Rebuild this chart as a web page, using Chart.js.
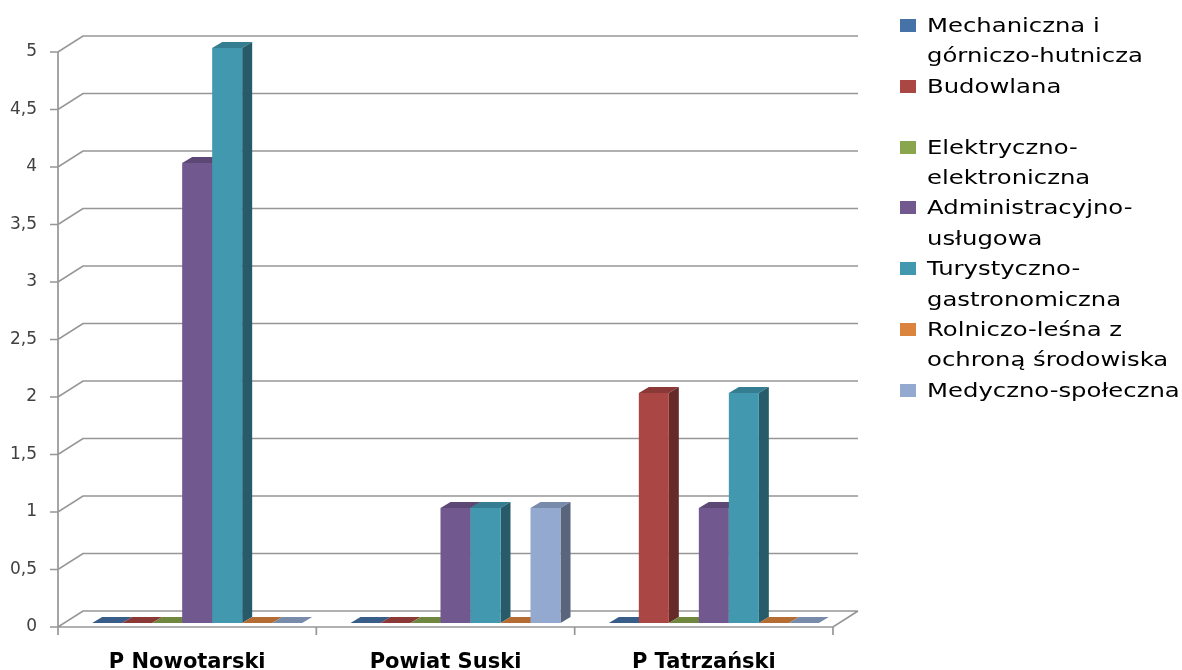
<!DOCTYPE html>
<html>
<head>
<meta charset="utf-8">
<script src="https://cdn.jsdelivr.net/npm/chart.js@4.4.1/dist/chart.umd.min.js"></script>
<style>
body { margin: 0; background: #fff; }
#wrap { position: relative; width: 1182px; height: 670px; overflow: hidden; }
#legend { position: absolute; left: 900px; top: 10px; font-family: "DejaVu Sans"; font-size: 19px; color: #000; }
.item { position: relative; }
.sw { position: absolute; left: 0; top: 9px; width: 16px; height: 13px; }
.txt { margin-left: 27px; line-height: 30.4px; transform: scaleX(1.28); transform-origin: left top; white-space: nowrap; }
</style>
</head>
<body>
<div id="wrap">
  <canvas id="chart" width="1182" height="670"></canvas>
  <div id="legend"></div>
</div>
<script>
var categories = ['P Nowotarski', 'Powiat Suski', 'P Tatrzański'];
var seriesNames = [
    'Mechaniczna i górniczo-hutnicza',
    'Budowlana',
    'Elektryczno-elektroniczna',
    'Administracyjno-usługowa',
    'Turystyczno-gastronomiczna',
    'Rolniczo-leśna z ochroną środowiska',
    'Medyczno-społeczna'
];
// legend text as it is wrapped in the picture
var legendLines = [
    ['Mechaniczna i', 'górniczo-hutnicza'],
    ['Budowlana', ''],
    ['Elektryczno-', 'elektroniczna'],
    ['Administracyjno-', 'usługowa'],
    ['Turystyczno-', 'gastronomiczna'],
    ['Rolniczo-leśna z', 'ochroną środowiska'],
    ['Medyczno-społeczna']
];
var mechaniczna = [0, 0, 0];
var budowlana = [0, 0, 2];
var elektryczna = [0, 0, 0];
var administracyjna = [4, 1, 1];
var turystyczna = [5, 1, 2];
var rolnicza = [0, 0, 0];
var medyczna = [0, 1, 0];
var seriesValues = [mechaniczna, budowlana, elektryczna, administracyjna, turystyczna, rolnicza, medyczna];
var colors = ['#4572A7', '#AA4643', '#89A54E', '#71588F', '#4198AF', '#DB843D', '#93A9CF'];
var yMin = 0, yMax = 5, yStep = 0.5;

// depth of the walls and of the bars (fake 3d)
var DX = 25, DY = -16;
var BX = 10, BY = -6;
var SHIFT_X = 10, SHIFT_Y = -4;

function shade(hex, f) {
    var n = parseInt(hex.slice(1), 16);
    var r = Math.round(((n >> 16) & 255) * f);
    var g = Math.round(((n >> 8) & 255) * f);
    var b = Math.round((n & 255) * f);
    return 'rgb(' + r + ',' + g + ',' + b + ')';
}

function poly(ctx, pts, fill) {
    ctx.beginPath();
    ctx.moveTo(pts[0][0], pts[0][1]);
    for (var i = 1; i < pts.length; i++) ctx.lineTo(pts[i][0], pts[i][1]);
    ctx.closePath();
    ctx.fillStyle = fill;
    ctx.fill();
}

var walls = {
    id: 'walls',
    beforeDatasetsDraw: function (chart) {
        var ctx = chart.ctx, a = chart.chartArea;
        var x = chart.scales.x, y = chart.scales.y;
        ctx.save();
        ctx.strokeStyle = '#969696';
        ctx.lineWidth = 1.7;
        ctx.beginPath();
        y.ticks.forEach(function (t) {
            var py = y.getPixelForValue(t.value);
            ctx.moveTo(a.left - 8, py);
            ctx.lineTo(a.left, py);
            ctx.lineTo(a.left + DX, py + DY);
            ctx.lineTo(a.right + DX, py + DY);
        });
        ctx.moveTo(a.left, y.getPixelForValue(yMax));
        ctx.lineTo(a.left, a.bottom + 8);
        ctx.moveTo(a.left, a.bottom);
        ctx.lineTo(a.right, a.bottom);
        ctx.lineTo(a.right + DX, a.bottom + DY);
        var n = categories.length;
        for (var i = 1; i <= n; i++) {
            var px = a.left + i * (a.right - a.left) / n;
            ctx.moveTo(px, a.bottom);
            ctx.lineTo(px, a.bottom + 8);
        }
        ctx.stroke();
        ctx.restore();
    },
    beforeDatasetDraw: function () {
        return false;
    },
    afterDatasetsDraw: function (chart) {
        var ctx = chart.ctx;
        ctx.save();
        ctx.translate(SHIFT_X, SHIFT_Y);
        for (var i = 0; i < categories.length; i++) {
            chart.data.datasets.forEach(function (ds, d) {
                var bar = chart.getDatasetMeta(d).data[i];
                var l = bar.x - bar.width / 2, r = bar.x + bar.width / 2;
                var top = bar.y, base = bar.base;
                var col = ds.backgroundColor;
                poly(ctx, [[l, top], [l + BX, top + BY], [r + BX, top + BY], [r, top]], shade(col, 0.82));
                if (base - top > 0.5) {
                    poly(ctx, [[r, top], [r + BX, top + BY], [r + BX, base + BY], [r, base]], shade(col, 0.6));
                    ctx.fillStyle = col;
                    ctx.fillRect(l, top, bar.width, base - top);
                }
            });
        }
        ctx.restore();
    }
};

var datasets = seriesNames.map(function (name, i) {
    return {
        label: name,
        data: seriesValues[i],
        backgroundColor: colors[i],
        categoryPercentage: 0.813,
        barPercentage: 1
    };
});

var ctx = document.getElementById('chart');

var chart = new Chart(ctx, {
    type: 'bar',
    data: { labels: categories, datasets: datasets },
    options: {
        responsive: false,
        animation: false,
        layout: { padding: { top: 52, right: 349, left: 0, bottom: 0 } },
        plugins: { legend: { display: false }, tooltip: { enabled: false } },
        scales: {
            x: {
                grid: { display: false, drawTicks: false },
                border: { display: false },
                ticks: {
                    padding: 23,
                    color: '#000',
                    font: { family: 'DejaVu Sans', size: 21, weight: 'bold' }
                },
                afterFit: function (scale) { scale.height = 43; }
            },
            y: {
                min: yMin,
                max: yMax,
                grid: { display: false, drawTicks: false },
                border: { display: false },
                ticks: {
                    stepSize: yStep,
                    padding: 21,
                    color: '#404040',
                    font: { family: 'DejaVu Sans', size: 17 },
                    callback: function (v) { return String(v).replace('.', ','); }
                },
                afterFit: function (scale) { scale.width = 58; }
            }
        }
    },
    plugins: [walls]
});

// legend
var legend = document.getElementById('legend');
legendLines.forEach(function (lines, i) {
    var item = document.createElement('div');
    item.className = 'item';
    var sw = document.createElement('div');
    sw.className = 'sw';
    sw.style.background = colors[i];
    item.appendChild(sw);
    lines.forEach(function (line) {
        var t = document.createElement('div');
        t.className = 'txt';
        t.textContent = line || '\u00a0';
        item.appendChild(t);
    });
    legend.appendChild(item);
});
</script>
</body>
</html>
